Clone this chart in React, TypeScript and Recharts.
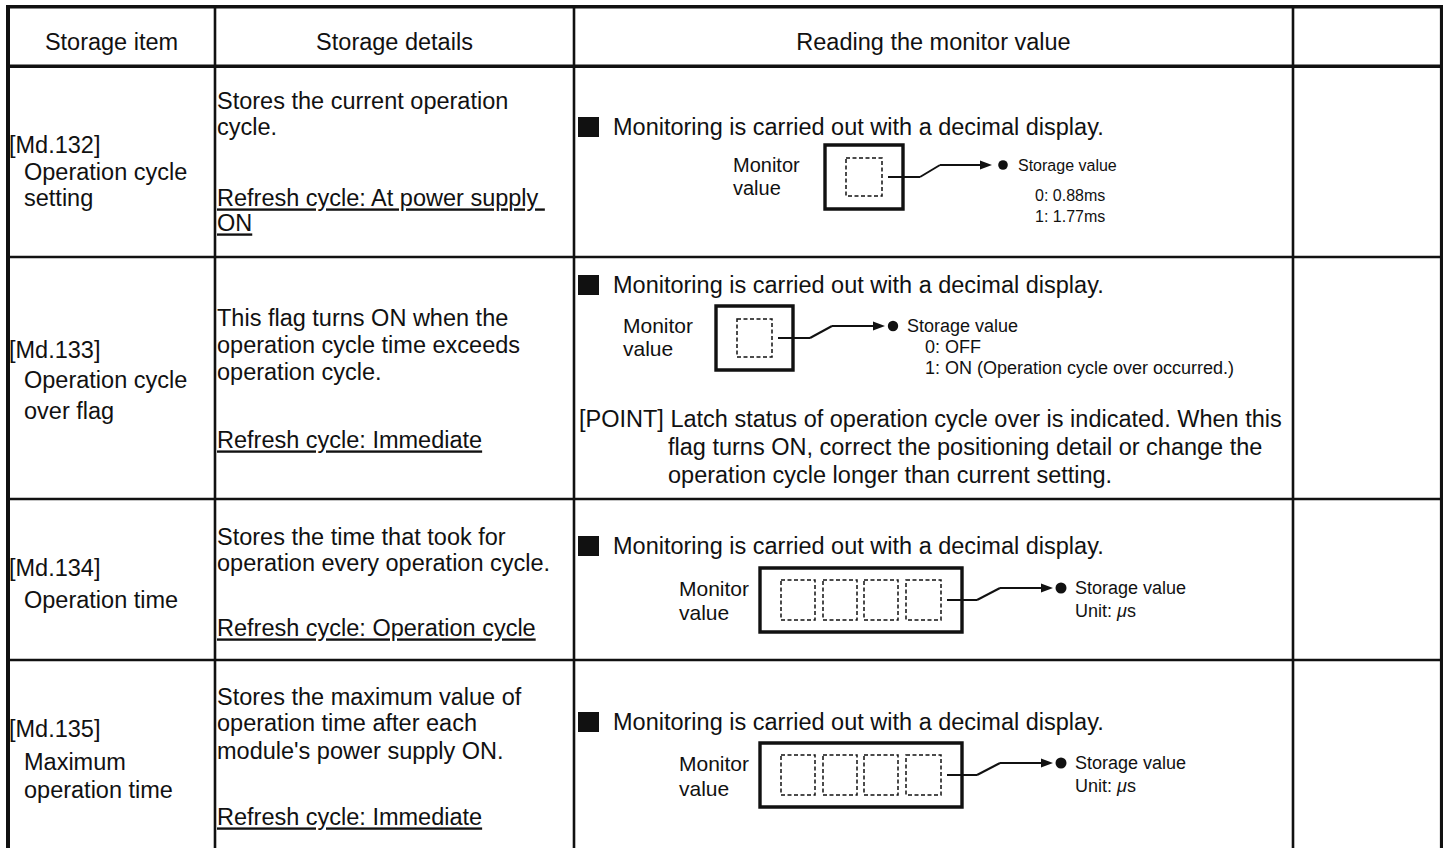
import React from 'react';
import {
  ComposedChart,
  XAxis,
  YAxis,
  ReferenceLine,
  ReferenceArea,
  ReferenceDot,
  Customized,
} from 'recharts';

const W = 1443;
const H = 848;
const FONT = '"Liberation Sans", Arial, Helvetica, sans-serif';
const INK = '#111';

// table content
const headers = ['Storage item', 'Storage details', 'Reading the monitor value', ''];
const itemCodes = ['[Md.132]', '[Md.133]', '[Md.134]', '[Md.135]'];
const itemNames = [
  ['Operation cycle', 'setting'],
  ['Operation cycle', 'over flag'],
  ['Operation time'],
  ['Maximum', 'operation time'],
];
const detailLines = [
  ['Stores the current operation', 'cycle.'],
  ['This flag turns ON when the', 'operation cycle time exceeds', 'operation cycle.'],
  ['Stores the time that took for', 'operation every operation cycle.'],
  ['Stores the maximum value of', 'operation time after each', "module's power supply ON."],
];
const refreshLines = [
  ['Refresh cycle: At power supply ', 'ON'],
  ['Refresh cycle: Immediate'],
  ['Refresh cycle: Operation cycle'],
  ['Refresh cycle: Immediate'],
];
const monitorNote = 'Monitoring is carried out with a decimal display.';
const monitorLabel = ['Monitor', 'value'];
const storageTitle = 'Storage value';
const storageLines = [
  ['0: 0.88ms', '1: 1.77ms'],
  ['0: OFF', '1: ON (Operation cycle over occurred.)'],
  ['Unit: μs'],
  ['Unit: μs'],
];
const digitCounts = [1, 1, 4, 4];
const pointLines = [
  '[POINT] Latch status of operation cycle over is indicated. When this',
  'flag turns ON, correct the positioning detail or change the',
  'operation cycle longer than current setting.',
];

// layout (pixels, chart domain is 1:1 with the svg)
const colX = [8, 215, 574, 1293, 1441.5];
const rowY = [6.7, 66.3, 257, 499, 660, H];
const itemY = [[145, 172, 198], [350, 380, 411], [568, 600], [729, 762, 790]];
const detailY = [[101, 127], [318, 345, 372], [537, 563], [697, 723, 751]];
const refreshY = [[198, 223], [440], [628], [817]];
const noteY = [127, 285, 546, 722];
const pointY = [419, 447, 475];

const diagrams = [
  {
    labelX: 733, labelY: [165, 188], labelSize: 20,
    box: [825, 903, 145, 209], cells: [[846, 882]], cellY: [158, 196],
    stubY: 177, bend: [920, 940], topY: 165, tipX: 992, dotX: 1003, dotR: 4.8,
    textX: 1018, subX: 1035, subY: [195, 216], textSize: 16,
  },
  {
    labelX: 623, labelY: [325, 348], labelSize: 21,
    box: [716, 793, 306, 370], cells: [[737, 772]], cellY: [319, 357],
    stubY: 338, bend: [810, 832], topY: 326, tipX: 885, dotX: 893, dotR: 5.2,
    textX: 907, subX: 925, subY: [347, 368], textSize: 18,
  },
  {
    labelX: 679, labelY: [588, 612], labelSize: 21,
    box: [760, 962, 568, 632], cells: [[781, 815], [823, 857], [864, 898], [906, 941]], cellY: [580, 620],
    stubY: 600, bend: [977, 1000], topY: 588, tipX: 1053, dotX: 1061, dotR: 5.5,
    textX: 1075, subX: 1075, subY: [611], textSize: 18,
  },
  {
    labelX: 679, labelY: [763, 788], labelSize: 21,
    box: [760, 962, 743, 807], cells: [[781, 815], [823, 857], [864, 898], [906, 941]], cellY: [755, 795],
    stubY: 775, bend: [977, 1000], topY: 763, tipX: 1053, dotX: 1061, dotR: 5.5,
    textX: 1075, subX: 1075, subY: [786], textSize: 18,
  },
];

function Txt({ x, y, size = 23.5, anchor = 'start', underline = false, children }: any) {
  return (
    <text
      x={x}
      y={y + size * 0.358}
      fontSize={size}
      fontFamily={FONT}
      fill={INK}
      textAnchor={anchor}
      style={{ whiteSpace: 'pre', textDecoration: underline ? 'underline' : undefined }}
    >
      {children}
    </text>
  );
}

function withMicro(s: string) {
  const parts = s.split('μ');
  if (parts.length === 1) return s;
  return (
    <>
      {parts[0]}
      <tspan fontStyle="italic">μ</tspan>
      {parts[1]}
    </>
  );
}

function TextLayer() {
  return (
    <g>
      {headers.map((h, i) =>
        h ? (
          <Txt key={h} x={(colX[i] + colX[i + 1]) / 2} y={42} anchor="middle">
            {h}
          </Txt>
        ) : null,
      )}
      {itemCodes.map((code, r) => (
        <g key={code}>
          <Txt x={9} y={itemY[r][0]}>{code}</Txt>
          {itemNames[r].map((n, k) => (
            <Txt key={n} x={24} y={itemY[r][k + 1]}>{n}</Txt>
          ))}
          {detailLines[r].map((d, k) => (
            <Txt key={d} x={217} y={detailY[r][k]}>{d}</Txt>
          ))}
          {refreshLines[r].map((d, k) => (
            <Txt key={d} x={217} y={refreshY[r][k]} underline>{d}</Txt>
          ))}
          <Txt x={613} y={noteY[r]}>{monitorNote}</Txt>
        </g>
      ))}
      {diagrams.map((d, r) => (
        <g key={r}>
          {monitorLabel.map((m, k) => (
            <Txt key={m} x={d.labelX} y={d.labelY[k]} size={d.labelSize}>{m}</Txt>
          ))}
          <polygon
            points={`${d.tipX},${d.topY} ${d.tipX - 12},${d.topY - 4.5} ${d.tipX - 12},${d.topY + 4.5}`}
            fill={INK}
          />
          <Txt x={d.textX} y={d.topY} size={d.textSize}>{storageTitle}</Txt>
          {storageLines[r].map((s, k) => (
            <Txt key={s} x={d.subX} y={d.subY[k]} size={d.textSize}>{withMicro(s)}</Txt>
          ))}
        </g>
      ))}
      {pointLines.map((p, k) => (
        <Txt key={p} x={k === 0 ? 579 : 668} y={pointY[k]}>{p}</Txt>
      ))}
    </g>
  );
}

export default function App() {
  const thick = 3.6;
  const thin = 2.6;
  const top = rowY[0];
  return (
    <div style={{ position: 'absolute', left: 0, top: 0, width: W, height: H, background: '#fff' }}>
      <ComposedChart width={W} height={H} data={[]} margin={{ top: 0, right: 0, bottom: 0, left: 0 }}>
        <XAxis type="number" dataKey="x" domain={[0, W]} hide allowDataOverflow />
        <YAxis type="number" dataKey="y" domain={[0, H]} reversed hide allowDataOverflow />

        {/* grid: horizontal rules */}
        {rowY.slice(0, 5).map((y, i) => (
          <ReferenceLine
            key={`h${i}`}
            segment={[{ x: colX[0] - 2, y }, { x: W, y }]}
            stroke={INK}
            strokeWidth={i < 2 ? thick : thin}
            ifOverflow="visible"
          />
        ))}
        {/* grid: vertical rules */}
        {colX.map((x, i) => (
          <ReferenceLine
            key={`v${i}`}
            segment={[{ x, y: top - 1.8 }, { x, y: H }]}
            stroke={INK}
            strokeWidth={i === 0 ? 4 : i === colX.length - 1 ? 3.2 : thin}
            ifOverflow="visible"
          />
        ))}

        {/* bullets */}
        {noteY.map((y, r) => (
          <ReferenceArea
            key={`b${r}`}
            x1={578}
            x2={599}
            y1={y - 10}
            y2={y + 10}
            fill={INK}
            fillOpacity={1}
            stroke="none"
            ifOverflow="visible"
          />
        ))}

        {/* monitor boxes */}
        {diagrams.map((d, r) => (
          <ReferenceArea
            key={`box${r}`}
            x1={d.box[0]}
            x2={d.box[1]}
            y1={d.box[2]}
            y2={d.box[3]}
            fill="none"
            stroke={INK}
            strokeWidth={3.4}
            ifOverflow="visible"
          />
        ))}
        {diagrams.flatMap((d, r) =>
          d.cells.map((c, k) => (
            <ReferenceArea
              key={`cell${r}-${k}`}
              x1={c[0]}
              x2={c[1]}
              y1={d.cellY[0]}
              y2={d.cellY[1]}
              fill="none"
              stroke={INK}
              strokeWidth={1.5}
              strokeDasharray="4 2.5"
              ifOverflow="visible"
            />
          )),
        )}

        {/* leader lines */}
        {diagrams.flatMap((d, r) => {
          const x0 = d.cells[d.cells.length - 1][1] + 6;
          const pts = [
            { x: x0, y: d.stubY },
            { x: d.bend[0], y: d.stubY },
            { x: d.bend[1], y: d.topY },
            { x: d.tipX - 6, y: d.topY },
          ];
          return pts.slice(1).map((p, k) => (
            <ReferenceLine
              key={`lead${r}-${k}`}
              segment={[pts[k], p]}
              stroke={INK}
              strokeWidth={2}
              ifOverflow="visible"
            />
          ));
        })}
        {diagrams.map((d, r) => (
          <ReferenceDot
            key={`dot${r}`}
            x={d.dotX}
            y={d.topY}
            r={d.dotR}
            fill={INK}
            stroke="none"
            ifOverflow="visible"
          />
        ))}

        <Customized component={TextLayer} />
      </ComposedChart>
    </div>
  );
}
